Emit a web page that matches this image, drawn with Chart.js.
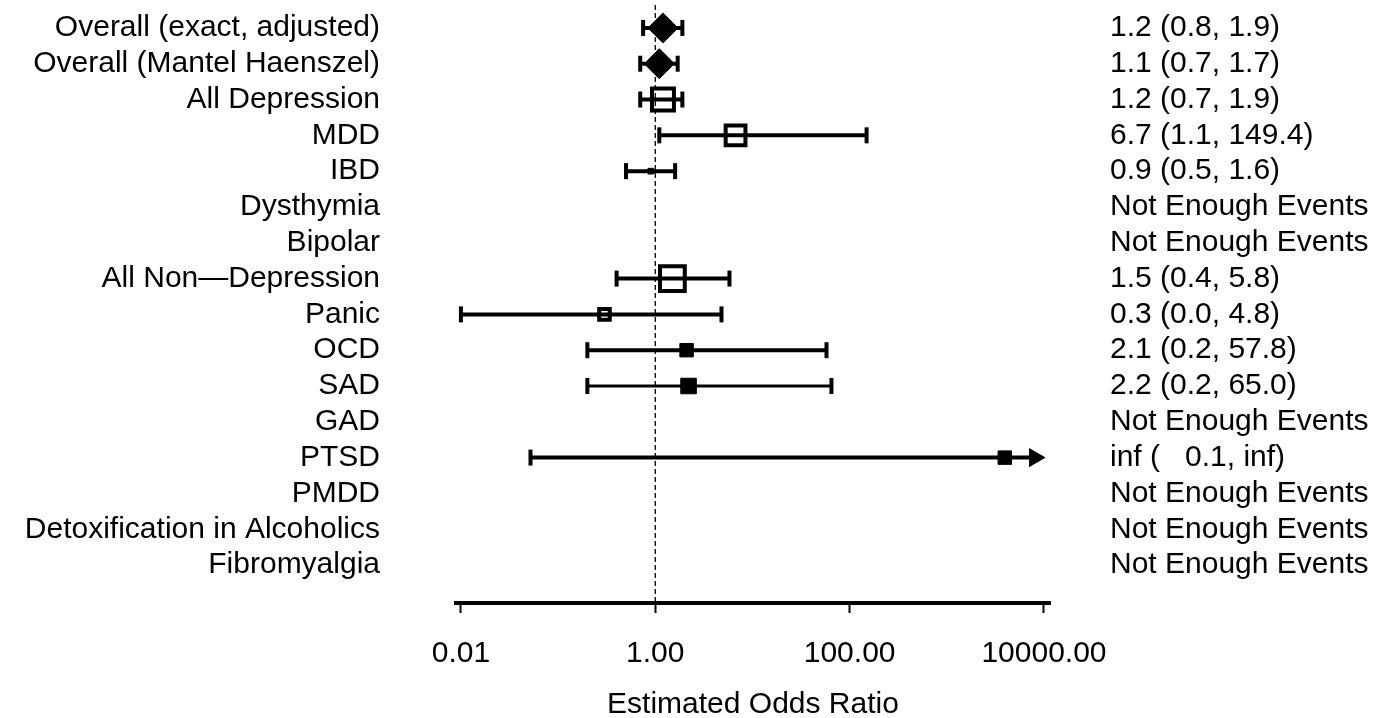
<!DOCTYPE html>
<html lang="en">
<head>
<meta charset="UTF-8">
<title>Estimated Odds Ratio</title>
<script src="https://cdn.jsdelivr.net/npm/chart.js"></script>
<style>
  body { margin: 0; background: #fff; }
  .wrap { width: 1385px; height: 718px; }
</style>
</head>
<body>
<div class="wrap"><canvas id="forest"></canvas></div>
<script>
const rowLabels = [
  'Overall (exact, adjusted)', 'Overall (Mantel Haenszel)', 'All Depression', 'MDD', 'IBD',
  'Dysthymia', 'Bipolar', 'All Non\u2014Depression', 'Panic', 'OCD', 'SAD', 'GAD', 'PTSD',
  'PMDD', 'Detoxification in Alcoholics', 'Fibromyalgia'
];
const oddsRatio = [1.2, 1.1, 1.2, 6.7, 0.9, null, null, 1.5, 0.3, 2.1, 2.2, null, 3950, null, null, null];
const lowerCI   = [0.75, 0.7, 0.7, 1.1, 0.5, null, null, 0.4, 0.01, 0.2, 0.2, null, 0.052, null, null, null];
const upperCI   = [1.9, 1.7, 1.9, 149.4, 1.6, null, null, 5.8, 4.8, 57.8, 65.0, null, 8000, null, null, null];
const ciText = [
  '1.2 (0.8, 1.9)', '1.1 (0.7, 1.7)', '1.2 (0.7, 1.9)', '6.7 (1.1, 149.4)', '0.9 (0.5, 1.6)',
  'Not Enough Events', 'Not Enough Events', '1.5 (0.4, 5.8)', '0.3 (0.0, 4.8)', '2.1 (0.2, 57.8)',
  '2.2 (0.2, 65.0)', 'Not Enough Events', 'inf (   0.1, inf)', 'Not Enough Events',
  'Not Enough Events', 'Not Enough Events'
];
const xTicks = [0.01, 1, 100, 10000];
const refValue = 1;

// marker look per row (style only)
const markerShape = ['diamond', 'diamond', 'open', 'open', 'filled', null, null, 'open', 'open', 'filled', 'filled', null, 'filled', null, null, null];
const markerSize  = [15, 15, 15.5, 14, 4, 0, 0, 17.5, 7.5, 9.5, 11, 0, 9.5, 0, 0, 0];
const lineWidth   = [4, 4, 4, 4, 4, 0, 0, 4, 4, 4, 3, 0, 4, 0, 0, 0];
const arrowRow = 12;

const yMin = -0.64, yMax = 16.06;
Chart.defaults.font.family = "'Liberation Sans', Arial, sans-serif";
Chart.defaults.color = '#000';

const rows = rowLabels.map((_, i) => i).filter(i => oddsRatio[i] !== null);

const datasets = [];

// point estimates (drawn on top)
datasets.push({
  data: rows.map(i => ({ x: oddsRatio[i], y: i })),
  pointStyle: rows.map(i => markerShape[i] === 'diamond' ? 'rectRot' : 'rect'),
  pointRadius: rows.map(i => markerSize[i]),
  pointBackgroundColor: rows.map(i => markerShape[i] === 'open' ? 'rgba(0,0,0,0)' : '#000'),
  pointBorderColor: '#000',
  pointBorderWidth: rows.map(i => markerShape[i] === 'open' ? 4 : 1),
  clip: false
});

// confidence intervals with end caps
rows.forEach(i => {
  const arrow = i === arrowRow;
  datasets.push({
    data: [{ x: lowerCI[i], y: i }, { x: upperCI[i], y: i }],
    showLine: true,
    borderColor: '#000',
    borderWidth: lineWidth[i],
    pointStyle: ['line', arrow ? 'triangle' : 'line'],
    pointRotation: 90,
    pointRadius: [8, arrow ? 9 : 8],
    pointBorderWidth: [4, arrow ? 2 : 4],
    pointBackgroundColor: '#000',
    pointBorderColor: '#000',
    clip: false
  });
});

// reference line at OR = 1
datasets.push({
  data: [{ x: refValue, y: yMin }, { x: refValue, y: yMax }],
  showLine: true,
  borderColor: '#000',
  borderWidth: 1.3,
  borderDash: [5, 3],
  pointRadius: 0
});

const yAxis = (position, labels, padding, width) => ({
  type: 'linear',
  position: position,
  reverse: true,
  min: yMin,
  max: yMax,
  afterBuildTicks: s => { s.ticks = labels.map((_, i) => ({ value: i })); },
  afterFit: s => { s.width = width; s.paddingTop = 0; s.paddingBottom = 0; },
  grid: { display: false },
  border: { display: false },
  ticks: {
    autoSkip: false,
    padding: padding,
    color: '#000',
    font: { size: 30 },
    callback: v => labels[v] ?? ''
  }
});

new Chart(document.getElementById('forest'), {
  type: 'scatter',
  data: { datasets: datasets },
  options: {
    responsive: true,
    maintainAspectRatio: false,
    animation: false,
    layout: { autoPadding: false, padding: { top: 5, left: 0, right: 0, bottom: 0 } },
    plugins: { legend: { display: false }, tooltip: { enabled: false } },
    scales: {
      x: {
        type: 'logarithmic',
        min: 0.0089,
        max: 11530,
        afterBuildTicks: s => { s.ticks = xTicks.map(v => ({ value: v })); },
        afterFit: s => { s.height = 115; s.paddingLeft = 0; s.paddingRight = 0; },
        border: { display: true, width: 4, color: '#000' },
        grid: { drawOnChartArea: false, drawTicks: true, tickLength: 10, tickWidth: 2, color: '#000' },
        ticks: {
          padding: 23,
          color: '#000',
          font: { size: 30 },
          autoSkip: false,
          maxRotation: 0,
          callback: v => Number(v).toFixed(2)
        },
        title: {
          display: true,
          text: 'Estimated Odds Ratio',
          color: '#000',
          font: { size: 30, lineHeight: 0.9 },
          padding: { top: 0, bottom: 0 }
        }
      },
      y: yAxis('left', rowLabels, 68, 456),
      yRight: yAxis('right', ciText, 52, 335)
    }
  }
});
</script>
</body>
</html>
